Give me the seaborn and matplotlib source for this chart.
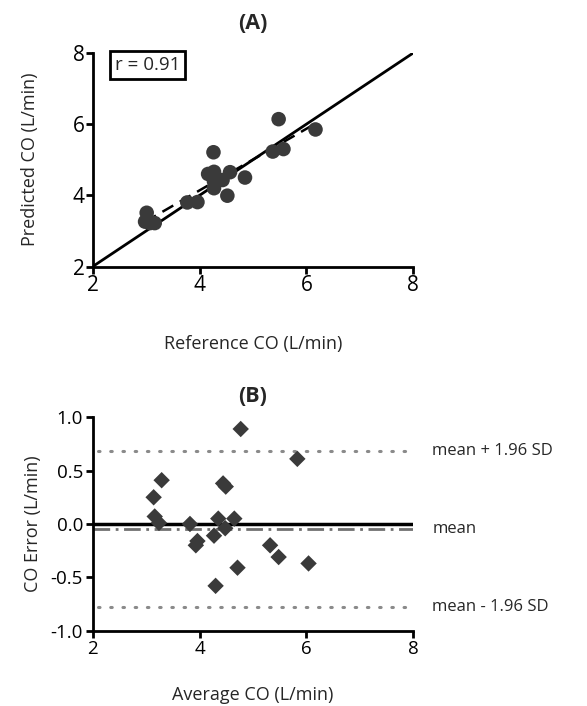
import numpy as np
import pandas as pd
import seaborn as sns
import matplotlib
matplotlib.use("Agg")
import matplotlib.pyplot as plt

# panel A: reference vs predicted CO
ref_co = [5.48, 6.17, 4.26, 5.37, 5.57, 4.16, 4.27, 4.57, 4.43, 4.27, 4.27,
          4.85, 4.52, 3.77, 3.96, 3.01, 2.98, 3.16, 3.07, 3.03]
pred_co = [6.14, 5.85, 5.21, 5.23, 5.30, 4.60, 4.66, 4.65, 4.43, 4.39, 4.20,
           4.50, 3.99, 3.80, 3.81, 3.51, 3.26, 3.22, 3.22, 3.30]
r_value = 0.91

# panel B: Bland-Altman
avg_co = [4.77, 5.83, 3.29, 3.14, 4.44, 4.49, 3.16, 3.24, 3.82, 4.35, 4.65,
          4.48, 4.27, 3.96, 3.93, 5.32, 5.48, 6.04, 4.71, 4.30]
err_co = [0.89, 0.61, 0.41, 0.25, 0.38, 0.35, 0.07, 0.01, 0.00, 0.05, 0.05,
          -0.04, -0.11, -0.16, -0.20, -0.20, -0.31, -0.37, -0.41, -0.58]
mean_err = -0.05
upper_loa = 0.68
lower_loa = -0.78

sns.set_style("ticks")
plt.rcParams['font.family'] = ['Open Sans', 'DejaVu Sans']
plt.rcParams['axes.unicode_minus'] = False
plt.rcParams['axes.linewidth'] = 2
plt.rcParams['xtick.major.width'] = 2
plt.rcParams['ytick.major.width'] = 2
plt.rcParams['xtick.major.size'] = 5
plt.rcParams['ytick.major.size'] = 5
plt.rcParams['xtick.color'] = 'black'
plt.rcParams['ytick.color'] = 'black'
plt.rcParams['axes.edgecolor'] = 'black'

dfa = pd.DataFrame({"ref": ref_co, "pred": pred_co})
dfb = pd.DataFrame({"avg": avg_co, "err": err_co})

fig = plt.figure(figsize=(5.87, 7.06), dpi=100)
ax1 = fig.add_axes([0.158, 0.6225, 0.546, 0.3025])
ax2 = fig.add_axes([0.158, 0.1067, 0.546, 0.3023])

# (A)
ax1.plot([2, 8], [2, 8], color="black", lw=2, zorder=1)
sns.regplot(data=dfa, x="ref", y="pred", scatter=False, ci=None, ax=ax1,
            line_kws=dict(color="black", lw=1.8, ls=(0, (5, 3))))
sns.scatterplot(data=dfa, x="ref", y="pred", ax=ax1, s=110, color="#3a3a3a",
                edgecolor="none", zorder=3)
ax1.set_xlim(2, 8)
ax1.set_ylim(2, 8)
ax1.set_xticks([2, 4, 6, 8])
ax1.set_yticks([2, 4, 6, 8])
ax1.tick_params(labelsize=15, pad=1)
ax1.set_xlabel("Reference CO (L/min)", fontsize=13, labelpad=28)
ax1.set_ylabel("Predicted CO (L/min)", fontsize=13, labelpad=24)
ax1.set_title("(A)", fontsize=15.5, fontweight="bold", pad=17)
ax1.text(3.02, 7.66, f"r = {r_value}", fontsize=13.5, ha="center", va="center",
         bbox=dict(boxstyle="square,pad=0.25", fc="white", ec="black", lw=2),
         clip_on=False)
sns.despine(ax=ax1)

# (B)
ax2.axhline(0, color="black", lw=2.5, zorder=1)
ax2.plot([2, 8], [mean_err, mean_err], color="#707070", lw=2,
         ls=(0, (6, 2, 1, 2)), zorder=1)
ax2.plot([2.1, 8], [upper_loa, upper_loa], color="#8a8a8a", lw=2.2,
         ls=(0, (0.5, 3.5)), dash_capstyle="round", zorder=1)
ax2.plot([2.1, 8], [lower_loa, lower_loa], color="#8a8a8a", lw=2.2,
         ls=(0, (0.5, 3.5)), dash_capstyle="round", zorder=1)
sns.scatterplot(data=dfb, x="avg", y="err", ax=ax2, marker="D", s=70,
                color="#3a3a3a", edgecolor="none", zorder=3)
ax2.set_xlim(2, 8)
ax2.set_ylim(-1, 1)
ax2.set_xticks([2, 4, 6, 8])
ax2.set_yticks([-1.0, -0.5, 0.0, 0.5, 1.0])
ax2.set_yticklabels(["-1.0", "-0.5", "0.0", "0.5", "1.0"])
ax2.tick_params(labelsize=13.5, pad=2)
ax2.set_xlabel("Average CO (L/min)", fontsize=13, labelpad=20)
ax2.set_ylabel("CO Error (L/min)", fontsize=13, labelpad=6)
ax2.set_title("(B)", fontsize=15.5, fontweight="bold", pad=11)
for yv, lab in [(upper_loa, "mean + 1.96 SD"), (mean_err, "mean"),
                (lower_loa, "mean - 1.96 SD")]:
    ax2.text(8.36, yv, lab, fontsize=12, ha="left", va="center", clip_on=False)
sns.despine(ax=ax2)

fig.savefig("out.png", dpi=100)
